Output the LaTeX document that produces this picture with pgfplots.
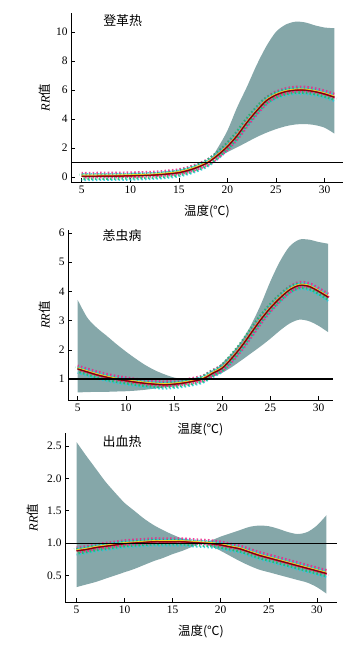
\documentclass[border=0pt]{standalone}
\usepackage{fontspec}
\setmainfont{Liberation Serif}
\newfontfamily\cjk{Noto Sans CJK SC}
\usepackage{pgfplots}
\pgfplotsset{compat=1.18}
\usepackage{pgfplotstable}
\usepgfplotslibrary{fillbetween}
\definecolor{band}{RGB}{133,167,169}
\definecolor{mainln}{RGB}{95,10,25}
\definecolor{spg}{RGB}{20,190,110}
\definecolor{spm}{RGB}{235,40,140}
\definecolor{spc}{RGB}{40,200,220}
\definecolor{spy}{RGB}{235,220,40}

\pgfplotstableread{
t c u l
5 0.05 0.08 0.03
6 0.05 0.08 0.03
7 0.06 0.09 0.03
8 0.06 0.10 0.03
9 0.07 0.11 0.04
10 0.08 0.13 0.04
11 0.10 0.15 0.05
12 0.12 0.19 0.07
13 0.16 0.24 0.10
14 0.22 0.32 0.15
15 0.30 0.42 0.22
16 0.46 0.56 0.36
17 0.69 0.75 0.62
18 1.00 1.00 1.00
19 1.50 2.00 1.38
20 2.10 3.20 1.72
21 2.85 4.80 2.05
22 3.75 6.20 2.40
23 4.55 7.70 2.75
24 5.25 9.00 3.05
25 5.65 10.00 3.30
26 5.88 10.50 3.50
27 5.98 10.70 3.62
28 5.98 10.65 3.65
29 5.88 10.45 3.58
30 5.72 10.30 3.40
31 5.50 10.25 3.00
}\dengue

\pgfplotstableread{
t c u l
5 1.34 3.71 0.54
6 1.24 3.10 0.55
7 1.14 2.75 0.56
8 1.06 2.48 0.56
9 0.99 2.20 0.57
10 0.94 1.94 0.58
11 0.89 1.70 0.60
12 0.85 1.48 0.63
13 0.82 1.30 0.67
14 0.80 1.16 0.71
15 0.82 1.05 0.75
16 0.86 1.00 0.82
17 0.92 1.00 0.90
18 1.00 1.00 1.00
19 1.19 1.22 1.08
20 1.37 1.54 1.21
21 1.71 1.88 1.41
22 2.11 2.30 1.64
23 2.57 2.85 1.88
24 3.03 3.54 2.12
25 3.43 4.34 2.38
26 3.77 5.03 2.66
27 4.05 5.54 2.90
28 4.20 5.77 3.03
29 4.17 5.77 2.98
30 4.00 5.69 2.82
31 3.80 5.63 2.60
}\scrub

\pgfplotstableread{
t c u l
5 0.88 2.56 0.32
6 0.90 2.35 0.36
7 0.93 2.15 0.40
8 0.95 1.95 0.45
9 0.97 1.78 0.50
10 0.99 1.62 0.55
11 1.00 1.50 0.60
12 1.01 1.38 0.66
13 1.02 1.28 0.72
14 1.02 1.20 0.77
15 1.02 1.13 0.83
16 1.02 1.07 0.88
17 1.01 1.03 0.94
18 1.00 1.00 1.00
19 0.99 1.04 0.95
20 0.97 1.10 0.88
21 0.94 1.15 0.80
22 0.91 1.20 0.72
23 0.86 1.25 0.65
24 0.81 1.27 0.59
25 0.77 1.26 0.55
26 0.73 1.22 0.51
27 0.69 1.17 0.47
28 0.65 1.14 0.43
29 0.61 1.17 0.39
30 0.57 1.27 0.32
31 0.53 1.43 0.22
}\hfrs

\pgfplotsset{
  myaxis/.style={
    scale only axis,
    axis lines=left,
    axis line style={-, line width=0.6pt},
    tick align=inside,
    major tick length=3.5bp,
    tick style={black, line width=0.5pt},
    xtick={5,10,15,20,25,30},
    /pgf/number format/assume math mode=true,
    ticklabel style={font=\fontsize{11.5}{12}\selectfont},
    xlabel={\fontsize{12.5}{13}\selectfont\cjk 温度(℃)},
    xlabel style={at={(axis description cs:0.5,0)}, anchor=center, yshift=-29bp},
    ylabel={\fontsize{12.5}{13}\selectfont\textit{RR}{\cjk 值}},
    clip=true,
  },
  sp/.style={smooth, line width=2.6pt, dash pattern=on 1.6pt off 2.2pt, opacity=0.85},
}

\newcommand{\speck}[1]{%
  \addplot[sp, spc, yshift=-3.8bp, line width=2pt, dash phase=1pt] table[x=t,y=c]{#1};
  \addplot[sp, spm, yshift=3.2bp, dash phase=0.5pt] table[x=t,y=c]{#1};
  \addplot[sp, spg, yshift=-2.4bp, dash phase=2pt] table[x=t,y=c]{#1};
  \addplot[sp, spm, xshift=2.5bp, yshift=-1.2bp, line width=2pt, dash phase=3pt] table[x=t,y=c]{#1};
  \addplot[sp, spg, xshift=-2.5bp, yshift=1.6bp, line width=2pt, dash phase=1.5pt] table[x=t,y=c]{#1};
  \addplot[sp, spc, yshift=2.4bp, line width=1.5pt, dash phase=2.5pt] table[x=t,y=c]{#1};
  \addplot[spy, smooth, line width=1pt, yshift=1.1bp] table[x=t,y=c]{#1};
  \addplot[red!85!black, smooth, line width=1.5pt] table[x=t,y=c]{#1};
  \addplot[mainln, smooth, line width=0.8pt] table[x=t,y=c]{#1};
}

\begin{document}
\begin{tikzpicture}

% Panel 1
\begin{axis}[myaxis, at={(71bp,471bp)}, anchor=south west,
  width=272bp, height=169bp,
  xmin=3.9, xmax=31.9, ymin=-0.34, ymax=11.3,
  ytick={0,2,4,6,8,10},
  ylabel style={at={(axis description cs:-0.096,0.5)}, anchor=center, rotate=0},
]
\addplot[name path=u, draw=none, smooth] table[x=t,y=u]{\dengue};
\addplot[name path=l, draw=none, smooth] table[x=t,y=l]{\dengue};
\addplot[band] fill between[of=u and l];
\speck{\dengue}
\addplot[black, line width=0.9pt] coordinates {(3.9,1) (31.9,1)};
\node[font=\fontsize{13}{14}\selectfont\cjk] at (axis description cs:0.19,0.955) {登革热};
\end{axis}

% Panel 2
\begin{axis}[myaxis, at={(68bp,253bp)}, anchor=south west,
  width=265bp, height=170bp,
  xmin=4.0, xmax=31.5, ymin=0.28, ymax=6.1,
  ytick={1,2,3,4,5,6},
  ylabel style={at={(axis description cs:-0.087,0.5)}, anchor=center, rotate=0},
]
\addplot[name path=u, draw=none, smooth] table[x=t,y=u]{\scrub};
\addplot[name path=l, draw=none, smooth] table[x=t,y=l]{\scrub};
\addplot[band] fill between[of=u and l];
\speck{\scrub}
\addplot[black, line width=1.2pt] coordinates {(4.0,1) (31.5,1)};
\node[font=\fontsize{13}{14}\selectfont\cjk] at (axis description cs:0.204,0.966) {恙虫病};
\end{axis}

% Panel 3
\begin{axis}[myaxis, at={(65bp,51bp)}, anchor=south west,
  width=272bp, height=169bp,
  xmin=3.8, xmax=32.1, ymin=0.09, ymax=2.7,
  ytick={0.5,1.0,1.5,2.0,2.5},
  yticklabels={0.5,1.0,1.5,2.0,2.5},
  ylabel style={at={(axis description cs:-0.118,0.5)}, anchor=center, rotate=0},
]
\addplot[name path=u, draw=none, smooth] table[x=t,y=u]{\hfrs};
\addplot[name path=l, draw=none, smooth] table[x=t,y=l]{\hfrs};
\addplot[band] fill between[of=u and l];
\speck{\hfrs}
\addplot[black, line width=0.9pt] coordinates {(3.8,1) (32.1,1)};
\node[font=\fontsize{13}{14}\selectfont\cjk] at (axis description cs:0.21,0.95) {出血热};
\end{axis}
\path (0,0) rectangle (354bp,653bp);
\end{tikzpicture}
\end{document}
